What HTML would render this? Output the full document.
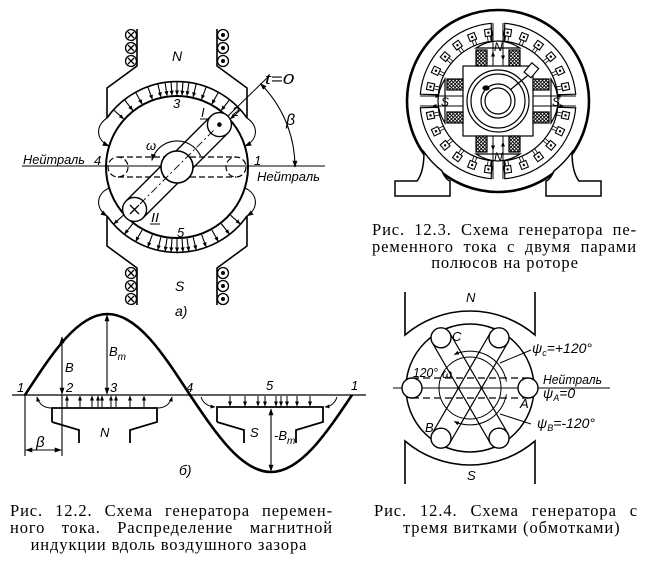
<!DOCTYPE html>
<html><head><meta charset="utf-8"><style>
html,body{margin:0;padding:0;background:#fff;}
#wrap{position:relative;width:645px;height:568px;overflow:hidden;}
svg{display:block;position:absolute;left:0;top:0;}
.l{font-family:"Liberation Sans","DejaVu Sans",sans-serif;font-style:italic;font-size:13px;fill:#000;stroke:none;}
.cap{position:absolute;font-family:"Liberation Serif","DejaVu Serif",serif;font-size:16.5px;letter-spacing:0.9px;line-height:17px;height:17px;color:#000;white-space:nowrap;}
.j{text-align:justify;text-align-last:justify;}
.m{text-align:center;}
</style></head><body>
<div id="wrap">
<svg width="645" height="568" viewBox="0 0 645 568" xmlns="http://www.w3.org/2000/svg">
<defs>
<marker id="ar" viewBox="0 0 10 10" refX="9" refY="5" markerWidth="7" markerHeight="7" markerUnits="userSpaceOnUse" orient="auto-start-reverse"><path d="M0,1.5 L10,5 L0,8.5 Z" fill="#000" stroke="none"/></marker>
<marker id="sa" viewBox="0 0 10 10" refX="9" refY="5" markerWidth="5" markerHeight="5" markerUnits="userSpaceOnUse" orient="auto-start-reverse"><path d="M0,1 L10,5 L0,9 Z" fill="#000" stroke="none"/></marker>
<pattern id="hx" width="3.5" height="3.5" patternUnits="userSpaceOnUse"><rect width="3.5" height="3.5" fill="#fff"/><path d="M0,0 L3.5,3.5 M3.5,0 L0,3.5" stroke="#000" stroke-width="0.9"/></pattern>
<g id="fa"><line x1="177" y1="82" x2="177" y2="95" marker-end="url(#sa)"/></g>
<g id="fb"><line x1="177" y1="239" x2="177" y2="252" marker-end="url(#sa)"/></g>
<g id="slot"><rect x="494.5" y="28.5" width="7" height="7" stroke-width="1.1"/><circle cx="498" cy="32" r="1.2" fill="#000" stroke="none"/><path d="M496.5,35.5 V41 M499.5,35.5 V41" stroke-width="0.8"/></g>
</defs>

<!-- ============ Fig 12.2 a) ============ -->
<g stroke="#000" fill="none" stroke-width="1.6">
  <path d="M137,29 V66 L107,88 V118"/>
  <path d="M217,29 V66 L247,88 V118"/>
  <path d="M107,118 A85.5,85.5 0 0 1 247,118"/>
  <path d="M137,305 V268 L107,246 V216"/>
  <path d="M217,305 V268 L247,246 V216"/>
  <path d="M107,216 A85.5,85.5 0 0 0 247,216"/>
</g>
<line x1="22" y1="166" x2="325" y2="166" stroke="#000" stroke-width="1"/>
<circle cx="177" cy="167" r="71" stroke="#000" fill="none" stroke-width="2"/>
<g stroke="#000" fill="none" stroke-width="1.1">
  <use href="#fa" transform="rotate(-48 177 167)"/><use href="#fa" transform="rotate(-38 177 167)"/>
  <use href="#fa" transform="rotate(-29 177 167)"/><use href="#fa" transform="rotate(-20 177 167)"/>
  <use href="#fa" transform="rotate(-13 177 167)"/><use href="#fa" transform="rotate(-8 177 167)"/>
  <use href="#fa" transform="rotate(-4 177 167)"/><use href="#fa" transform="rotate(0 177 167)"/>
  <use href="#fa" transform="rotate(4 177 167)"/><use href="#fa" transform="rotate(8 177 167)"/>
  <use href="#fa" transform="rotate(13 177 167)"/><use href="#fa" transform="rotate(20 177 167)"/>
  <use href="#fa" transform="rotate(29 177 167)"/><use href="#fa" transform="rotate(38 177 167)"/>
  <use href="#fa" transform="rotate(48 177 167)"/>
  <use href="#fb" transform="rotate(-48 177 167)"/><use href="#fb" transform="rotate(-38 177 167)"/>
  <use href="#fb" transform="rotate(-29 177 167)"/><use href="#fb" transform="rotate(-20 177 167)"/>
  <use href="#fb" transform="rotate(-13 177 167)"/><use href="#fb" transform="rotate(-8 177 167)"/>
  <use href="#fb" transform="rotate(-4 177 167)"/><use href="#fb" transform="rotate(0 177 167)"/>
  <use href="#fb" transform="rotate(4 177 167)"/><use href="#fb" transform="rotate(8 177 167)"/>
  <use href="#fb" transform="rotate(13 177 167)"/><use href="#fb" transform="rotate(20 177 167)"/>
  <use href="#fb" transform="rotate(29 177 167)"/><use href="#fb" transform="rotate(38 177 167)"/>
  <use href="#fb" transform="rotate(48 177 167)"/>
  <path d="M107,118 C95,126 96,140 109,146" marker-end="url(#ar)"/>
  <path d="M247,118 C259,126 258,140 245,146" marker-end="url(#ar)"/>
  <path d="M109,188 C96,194 95,208 107,216" marker-end="url(#ar)"/>
  <path d="M245,188 C258,194 259,208 247,216" marker-end="url(#ar)"/>
</g>
<!-- coil conductors -->
<g stroke="#000" fill="#fff" stroke-width="1.3">
  <circle cx="131" cy="35" r="5.5"/><circle cx="131" cy="48" r="5.5"/><circle cx="131" cy="61" r="5.5"/>
  <circle cx="223" cy="35" r="5.5"/><circle cx="223" cy="48" r="5.5"/><circle cx="223" cy="61" r="5.5"/>
  <circle cx="131" cy="273" r="5.5"/><circle cx="131" cy="286" r="5.5"/><circle cx="131" cy="299" r="5.5"/>
  <circle cx="223" cy="273" r="5.5"/><circle cx="223" cy="286" r="5.5"/><circle cx="223" cy="299" r="5.5"/>
  <path d="M128,32 L134,38 M134,32 L128,38 M128,45 L134,51 M134,45 L128,51 M128,58 L134,64 M134,58 L128,64 M128,270 L134,276 M134,270 L128,276 M128,283 L134,289 M134,283 L128,289 M128,296 L134,302 M134,296 L128,302" fill="none"/>
</g>
<g fill="#000"><circle cx="223" cy="35" r="2"/><circle cx="223" cy="48" r="2"/><circle cx="223" cy="61" r="2"/><circle cx="223" cy="273" r="2"/><circle cx="223" cy="286" r="2"/><circle cx="223" cy="299" r="2"/></g>
<!-- dashed neutral coil -->
<g stroke="#000" fill="none" stroke-width="1.2" stroke-dasharray="6,3">
  <path d="M118,157 H236 M118,177 H236"/>
  <circle cx="118" cy="167" r="10"/><circle cx="236" cy="167" r="10"/>
</g>
<!-- rotated coil -->
<g stroke="#000" stroke-width="1.4" transform="rotate(-45 177 167)">
  <path d="M117,155 H237 M117,179 H237" fill="none"/>
  <circle cx="237" cy="167" r="12" fill="#fff"/>
  <circle cx="117" cy="167" r="12" fill="#fff"/>
</g>
<circle cx="177" cy="167" r="16" stroke="#000" stroke-width="1.6" fill="#fff"/>
<path d="M140,204 L214,130" stroke="#000" stroke-width="0.9" stroke-dasharray="8,3,2,3" fill="none"/>
<path d="M228,116 L268,77" stroke="#000" stroke-width="1" fill="none"/>
<circle cx="219.4" cy="124.6" r="2.3" fill="#000"/>
<path d="M130,205 L139,214 M139,205 L130,214" stroke="#000" stroke-width="1.3"/>
<path d="M260.4,83.6 A118,118 0 0 1 295,167" stroke="#000" stroke-width="1.1" fill="none" marker-start="url(#ar)" marker-end="url(#ar)"/>
<path d="M200.6,156 A26,26 0 0 0 151.9,160.3" stroke="#000" stroke-width="1.1" fill="none" marker-end="url(#ar)"/>
<g class="l">
  <text x="172" y="61" font-size="14">N</text>
  <text x="175" y="291" font-size="14">S</text>
  <text x="265" y="84" font-size="15" textLength="29" lengthAdjust="spacingAndGlyphs">t=0</text>
  <text x="286" y="125" font-size="16">β</text>
  <text x="232" y="116">2</text>
  <text x="173" y="108">3</text>
  <text x="177" y="237">5</text>
  <text x="201" y="117">I</text>
  <text x="151" y="222" textLength="8" lengthAdjust="spacingAndGlyphs">II</text>
  <text x="146" y="150">ω</text>
  <text x="94" y="165">4</text>
  <text x="254" y="165">1</text>
  <text x="23" y="164" textLength="62" lengthAdjust="spacingAndGlyphs">Нейтраль</text>
  <text x="257" y="181" textLength="63" lengthAdjust="spacingAndGlyphs">Нейтраль</text>
  <text x="175" y="316" font-size="14">а)</text>
</g>
<path d="M200,119 H208 M150,224 H160" stroke="#000" stroke-width="1"/>

<!-- ============ Fig 12.2 б) graph ============ -->
<g stroke="#000" fill="none">
  <line x1="12" y1="395" x2="366" y2="395" stroke-width="1.2"/>
  <path d="M25,395 C51.9,353.5 77.6,314 107.5,314 C137.4,314 163.1,353.5 190,395 C216.4,434.4 241.7,472 271,472 C300.3,472 325.6,434.4 352,395" stroke-width="2.6"/>
  <path d="M52,422 V408 H157 V422 L130,430 V443 M52,422 L79,430 V443" stroke-width="1.8"/>
  <path d="M217,422 V407 H323 V422 L296,430 V443 M217,422 L244,430 V443" stroke-width="1.8"/>
  <g stroke-width="1" marker-end="url(#sa)">
    <line x1="67" y1="407" x2="67" y2="396"/><line x1="80" y1="407" x2="80" y2="396"/>
    <line x1="92" y1="407" x2="92" y2="396"/><line x1="98" y1="407" x2="98" y2="396"/>
    <line x1="102" y1="407" x2="102" y2="396"/><line x1="111" y1="407" x2="111" y2="396"/>
    <line x1="116" y1="407" x2="116" y2="396"/><line x1="130" y1="407" x2="130" y2="396"/>
    <line x1="144" y1="407" x2="144" y2="396"/>
    <path d="M52,408 Q40,408 37,397"/><path d="M157,408 Q169,408 172,397"/>
    <line x1="230" y1="396" x2="230" y2="406"/><line x1="245" y1="396" x2="245" y2="406"/>
    <line x1="258" y1="396" x2="258" y2="406"/><line x1="265" y1="396" x2="265" y2="406"/>
    <line x1="276" y1="396" x2="276" y2="406"/><line x1="281" y1="396" x2="281" y2="406"/>
    <line x1="287" y1="396" x2="287" y2="406"/><line x1="297" y1="396" x2="297" y2="406"/>
    <line x1="310" y1="396" x2="310" y2="406"/>
    <path d="M201,397 Q204,406 215,407"/><path d="M337,397 Q334,406 325,407"/>
  </g>
  <g stroke-width="1.1">
    <path d="M62,337 V394" marker-start="url(#ar)" marker-end="url(#ar)"/>
    <path d="M62,395 V456 M25,395 V456"/>
    <path d="M26,450 H61" marker-start="url(#ar)" marker-end="url(#ar)"/>
    <path d="M107,315 V394" marker-start="url(#ar)" marker-end="url(#ar)"/>
    <path d="M271,409 V471" marker-start="url(#ar)" marker-end="url(#ar)"/>
  </g>
</g>
<g class="l">
  <text x="17" y="392">1</text>
  <text x="66" y="392">2</text>
  <text x="110" y="392">3</text>
  <text x="186" y="392">4</text>
  <text x="266" y="390">5</text>
  <text x="351" y="390">1</text>
  <text x="65" y="372">B</text>
  <text x="109" y="356">B<tspan font-size="10" dy="4">m</tspan></text>
  <text x="100" y="437">N</text>
  <text x="250" y="437">S</text>
  <text x="274" y="440">-B<tspan font-size="10" dy="4">m</tspan></text>
  <text x="36" y="447" font-size="15">β</text>
  <text x="179" y="475" font-size="14">б)</text>
</g>

<!-- ============ Fig 12.3 motor ============ -->
<g stroke="#000" fill="none" stroke-width="1.2">
  <circle cx="498" cy="101" r="91" stroke-width="2.6"/>
  <path id="q" d="M504.8,23.3 A78,78 0 0 1 575.7,94.2 L557.7,94.7 A60,60 0 0 0 504.3,41.3 Z"/>
  <use href="#q" transform="translate(996,0) scale(-1,1)"/>
  <use href="#q" transform="translate(0,202) scale(1,-1)"/>
  <use href="#q" transform="translate(996,202) scale(-1,-1)"/>
  <use href="#slot" transform="rotate(8 498 101)"/><use href="#slot" transform="rotate(22 498 101)"/>
  <use href="#slot" transform="rotate(36 498 101)"/><use href="#slot" transform="rotate(50 498 101)"/>
  <use href="#slot" transform="rotate(64 498 101)"/><use href="#slot" transform="rotate(78 498 101)"/>
  <use href="#slot" transform="rotate(102 498 101)"/><use href="#slot" transform="rotate(116 498 101)"/>
  <use href="#slot" transform="rotate(130 498 101)"/><use href="#slot" transform="rotate(144 498 101)"/>
  <use href="#slot" transform="rotate(158 498 101)"/><use href="#slot" transform="rotate(172 498 101)"/>
  <use href="#slot" transform="rotate(188 498 101)"/><use href="#slot" transform="rotate(202 498 101)"/>
  <use href="#slot" transform="rotate(216 498 101)"/><use href="#slot" transform="rotate(230 498 101)"/>
  <use href="#slot" transform="rotate(244 498 101)"/><use href="#slot" transform="rotate(258 498 101)"/>
  <use href="#slot" transform="rotate(282 498 101)"/><use href="#slot" transform="rotate(296 498 101)"/>
  <use href="#slot" transform="rotate(310 498 101)"/><use href="#slot" transform="rotate(324 498 101)"/>
  <use href="#slot" transform="rotate(338 498 101)"/><use href="#slot" transform="rotate(352 498 101)"/>
  <!-- rotor -->
  <rect x="463" y="66" width="70" height="70" fill="#fff"/>
  <path d="M476,48 Q498,34 520,48 Z M476,154 Q498,168 520,154 Z M445,79 Q431,101 445,123 Z M551,79 Q565,101 551,123 Z" fill="#fff"/>
  <g fill="url(#hx)">
    <rect x="476" y="50" width="11" height="16"/><rect x="509" y="50" width="11" height="16"/>
    <rect x="476" y="136" width="11" height="16"/><rect x="509" y="136" width="11" height="16"/>
    <rect x="447" y="79" width="16" height="11"/><rect x="447" y="112" width="16" height="11"/>
    <rect x="533" y="79" width="16" height="11"/><rect x="533" y="112" width="16" height="11"/>
  </g>
  <path d="M493,23 V66 M503,23 V66 M493,136 V179 M503,136 V179 M420,96 H463 M420,106 H463 M533,96 H576 M533,106 H576" stroke-width="1"/>
  <g stroke-width="1" marker-end="url(#sa)">
    <path d="M493,62 V52"/><path d="M503,50 V60"/>
    <path d="M493,140 V150"/><path d="M503,152 V142"/>
    <path d="M430,96 H440"/><path d="M442,106 H432"/>
    <path d="M566,96 H556"/><path d="M554,106 H564"/>
  </g>
  <circle cx="498" cy="101" r="31" fill="#fff"/>
  <circle cx="498" cy="101" r="27"/>
  <circle cx="498" cy="101" r="17"/>
  <circle cx="498" cy="101" r="13"/>
  <path d="M510,90 L532,72"/>
  <rect x="527" y="64" width="9" height="12" transform="rotate(40 531 70)" fill="#fff"/>
  <ellipse cx="486" cy="88" rx="3" ry="2" fill="#000"/>
  <path id="foot" d="M395,181 L417,181 Q424,172 424,152 A91,91 0 0 0 442,171 Q446,180 450,181 L450,196 L395,196 Z" fill="#fff" stroke-width="1.5"/>
  <use href="#foot" transform="translate(996,0) scale(-1,1)"/>
</g>
<g class="l">
  <text x="494" y="51" font-size="12">N</text>
  <text x="494" y="161" font-size="12">N</text>
  <text x="441" y="106" font-size="12">S</text>
  <text x="552" y="106" font-size="12">S</text>
</g>

<!-- ============ Fig 12.4 ============ -->
<g stroke="#000" fill="none" stroke-width="1.6">
  <path d="M405,292 V335 A100,100 0 0 1 535,335 V292"/>
  <path d="M405,484 V441 A100,100 0 0 0 535,441 V484"/>
  <circle cx="470" cy="388" r="64" stroke-width="1.5"/>
  <line x1="393" y1="388" x2="610" y2="388" stroke-width="1"/>
  <g stroke-width="1.2">
    <path d="M412,378 H528 M412,398 H528" stroke-dasharray="7,4"/>
    <path d="M412,378 H528 M412,398 H528" transform="rotate(60 470 388)"/>
    <path d="M412,378 H528 M412,398 H528" transform="rotate(-60 470 388)"/>
    <circle cx="470" cy="388" r="31" stroke-width="1"/>
    <path d="M506.4,381.6 A37,37 0 0 0 454.4,354.5" marker-end="url(#sa)" stroke-width="1"/>
    <path d="M506.4,394.4 A37,37 0 0 1 454.4,421.5" marker-end="url(#sa)" stroke-width="1"/>
    <path d="M531,350 L500,363 M531,424 L500,414" stroke-width="1"/>
  </g>
  <g fill="#fff" stroke-width="1.4">
    <circle cx="412" cy="388" r="10"/><circle cx="528" cy="388" r="10"/>
    <circle cx="441" cy="337.8" r="10"/><circle cx="499" cy="337.8" r="10"/>
    <circle cx="441" cy="438.2" r="10"/><circle cx="499" cy="438.2" r="10"/>
  </g>
</g>
<g class="l">
  <text x="466" y="302" font-size="13">N</text>
  <text x="467" y="480" font-size="13">S</text>
  <text x="452" y="341">C</text>
  <text x="425" y="432">B</text>
  <text x="520" y="408">A</text>
  <text x="413" y="377" textLength="25" lengthAdjust="spacingAndGlyphs">120°</text>
  <text x="442" y="378">ω</text>
  <text x="543" y="384" textLength="59" lengthAdjust="spacingAndGlyphs">Нейтраль</text>
  <text x="532" y="353" font-size="14">ψ<tspan font-size="9" dy="3">c</tspan><tspan dy="-3">=+120°</tspan></text>
  <text x="543" y="398" font-size="14">ψ<tspan font-size="9" dy="3">A</tspan><tspan dy="-3">=0</tspan></text>
  <text x="537" y="428" font-size="14">ψ<tspan font-size="9" dy="3">B</tspan><tspan dy="-3">=-120°</tspan></text>
</g>
</svg>

<!-- ============ Captions ============ -->
<div class="cap j" style="left:372px;top:221px;width:265px;">Рис. 12.3. Схема генератора пе-</div>
<div class="cap j" style="left:372px;top:238px;width:265px;">ременного тока с двумя парами</div>
<div class="cap m" style="left:405px;top:254px;width:200px;">полюсов на роторе</div>

<div class="cap j" style="left:10px;top:502px;width:323px;">Рис. 12.2. Схема генератора перемен-</div>
<div class="cap j" style="left:10px;top:519px;width:323px;">ного тока. Распределение магнитной</div>
<div class="cap m" style="left:19px;top:536px;width:300px;">индукции вдоль воздушного зазора</div>

<div class="cap j" style="left:374px;top:502px;width:264px;">Рис. 12.4. Схема генератора с</div>
<div class="cap j" style="left:403px;top:519px;width:217px;">тремя витками (обмотками)</div>
</div>
</body></html>
